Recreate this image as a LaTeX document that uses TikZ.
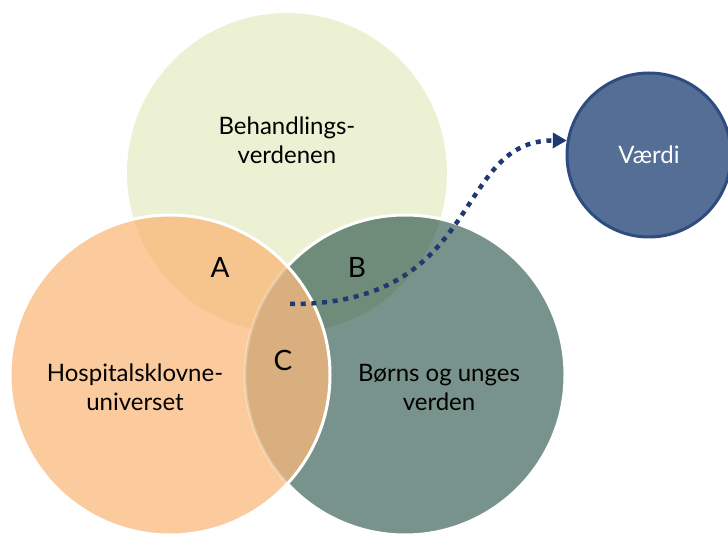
\documentclass[tikz,border=0pt]{standalone}
\usepackage{fontspec}
\setmainfont{Lato}
\usetikzlibrary{arrows.meta}
\definecolor{cream}{HTML}{EDF1D3}
\definecolor{orangeL}{HTML}{FBCB9E}
\definecolor{regA}{HTML}{F6C58D}
\definecolor{regB}{HTML}{6E8C79}
\definecolor{regC}{HTML}{D9AF7F}
\definecolor{greenR}{HTML}{78938B}
\definecolor{vblue}{HTML}{546E95}
\definecolor{vborder}{HTML}{2F4C7E}
\definecolor{arrowblue}{HTML}{1F3A70}
\tikzset{
  lbl/.style={align=center, text=black, font=\fontsize{24}{29}\selectfont},
  letter/.style={text=black, font=\fontsize{28}{30}\selectfont},
  rim/.style={draw=white, line width=3pt},
  flow/.style={draw=arrowblue, line width=4.5pt, dash pattern=on 5pt off 5.7pt,
    -{Triangle[length=14pt,width=15pt]}}
}
\begin{document}
\begin{tikzpicture}[x=1pt,y=1pt]
\useasboundingbox (0,0) rectangle (728,533);
\coordinate (ct) at (287,360);
\coordinate (cl) at (170,158);
\coordinate (cr) at (405,158);
% top circle
\fill[cream] (ct) circle (160);
% right circle
\fill[greenR] (cr) circle (160);
\begin{scope}
  \clip (cr) circle (160);
  \fill[regB] (ct) circle (160);
\end{scope}
\draw[rim] (cr) circle (160);
% left circle
\fill[orangeL] (cl) circle (160);
\begin{scope}
  \clip (cl) circle (160);
  \fill[regA] (ct) circle (160);
  \fill[regC] (cr) circle (160);
  \draw[white, opacity=0.25, line width=3pt] (cr) circle (160);
\end{scope}
\draw[rim] (cl) circle (160);
% value circle
\node[circle, minimum size=164pt, inner sep=0pt, fill=vblue, draw=vborder, line width=3pt,
  text=white, font=\fontsize{24}{28}\selectfont] (v) at (649,378) {Værdi};
% labels
\node[lbl] (tb) at (287,393) {Behandlings-\\verdenen};
\node[lbl] (tl) at (135,146) {Hospitalsklovne-\\universet};
\node[lbl] (tr) at (439,146) {Børns og unges\\verden};
\node[letter] (la) at (220,266) {A};
\node[letter] (lb) at (357,266) {B};
\node[letter] (lc) at (283,173) {C};
% arrow
\coordinate (s) at (290,229);
\draw[flow] (s) .. controls (485,228) and (452,393) .. (v.170);
\end{tikzpicture}
\end{document}
